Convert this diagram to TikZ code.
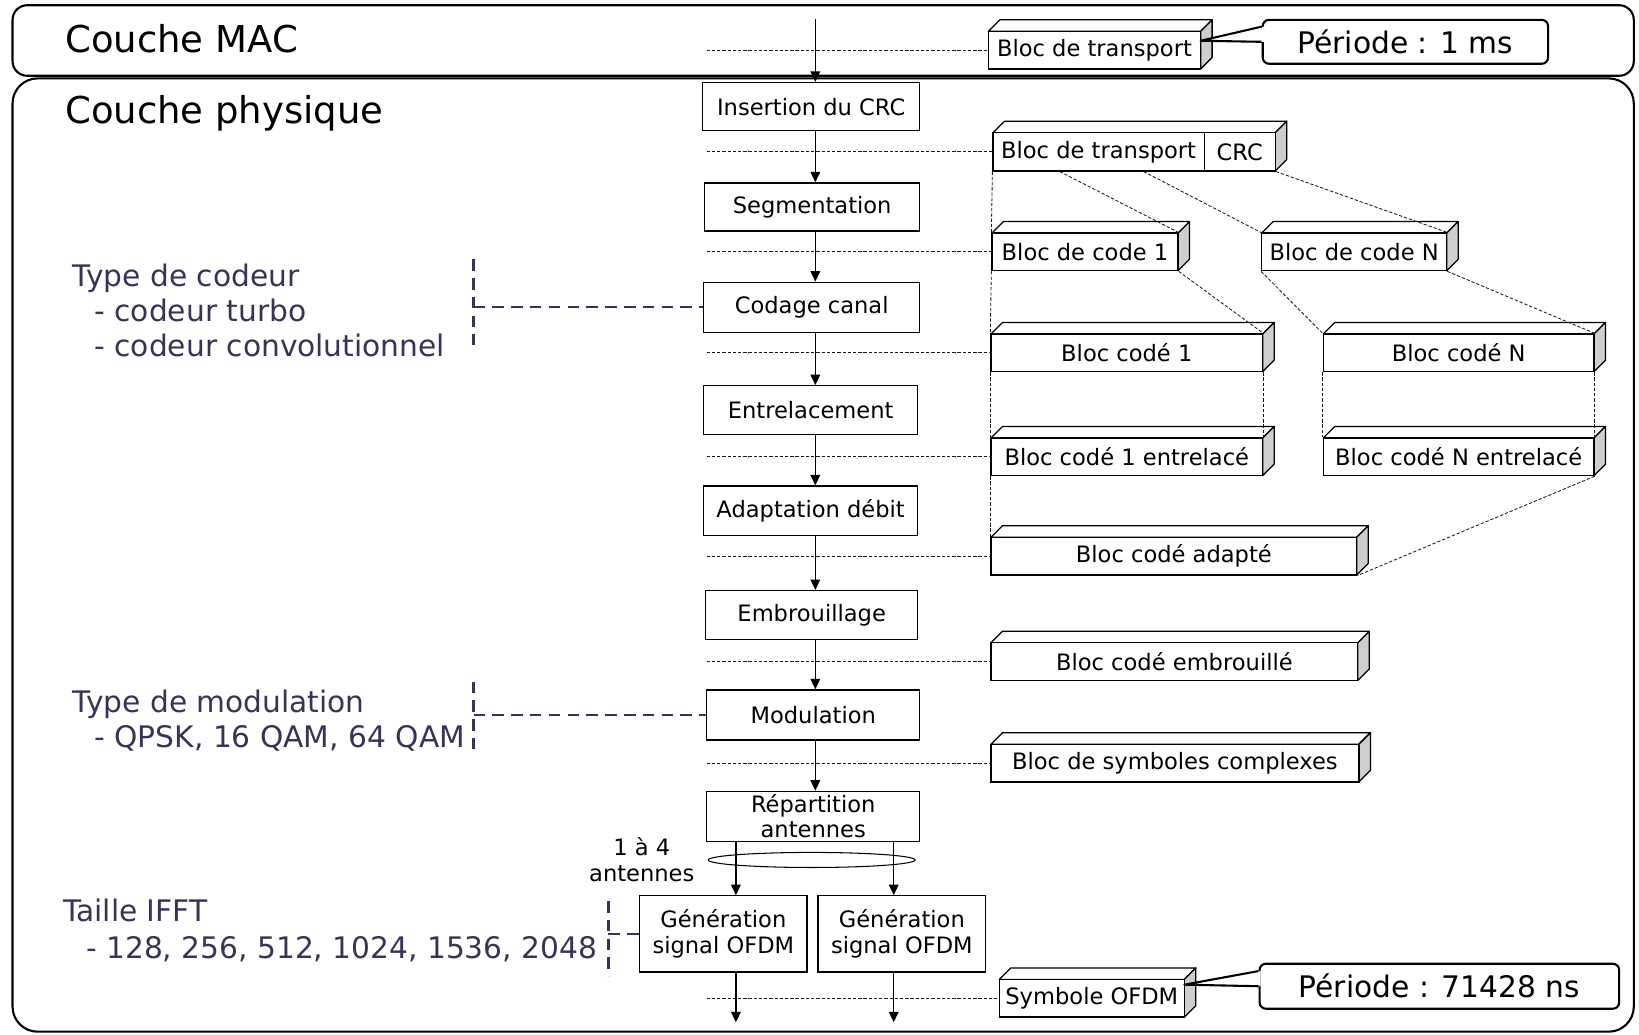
\documentclass[tikz,border=0pt]{standalone}
\usepackage{fontspec}
\setmainfont{DejaVu Sans}
\usetikzlibrary{arrows.meta,calc}
\definecolor{noteviolet}{RGB}{60,49,86}
\definecolor{sidegray}{RGB}{206,206,206}

\newcommand\boxfont{\fontsize{10.8pt}{12.75pt}\selectfont}
\newcommand\notefont{\fontsize{14.2pt}{17pt}\selectfont}
\newcommand\titlefont{\fontsize{17.7pt}{20pt}\selectfont}

% rectangular node given by its corners: name, x1, y1, x2, y2, text
\newcommand\procnode[6]{%
  \pgfmathsetmacro\pcx{(#2+#4)/2}\pgfmathsetmacro\pcy{(#3+#5)/2}%
  \pgfmathsetmacro\pcw{(#4-#2)*0.5}\pgfmathsetmacro\pch{(#5-#3)*0.5}%
  \node[proc, minimum width=\pcw pt, minimum height=\pch pt] (#1) at (\pcx,\pcy) {#6};}

% block drawn in relief: top face, grey side face, then the front node
\newcommand\bloctop[4]{%
  \filldraw[blocedge, fill=white] (#1,#2) -- (#1+11,#2-11) -- (#3+11,#2-11) -- (#3,#2) -- cycle;
  \filldraw[blocedge, fill=sidegray] (#3,#2) -- (#3+11,#2-11) -- (#3+11,#4-11) -- (#3,#4) -- cycle;}
\newcommand\bloc[6]{\bloctop{#2}{#3}{#4}{#5}\procnode{#1}{#2}{#3}{#4}{#5}{#6}}

\begin{document}
\begin{tikzpicture}[x=0.5pt,y=-0.5pt,
  proc/.style={draw=black, line width=0.6pt, fill=white, inner sep=0pt, align=center, font=\boxfont},
  blocedge/.style={draw=black, line width=0.6pt, line join=round},
  flow/.style={-{Triangle[width=4.6pt,length=5pt]}, line width=0.6pt},
  guide/.style={draw=black!90, line width=0.4pt, dash pattern=on 1.6pt off 0.9pt},
  note/.style={text=noteviolet, font=\notefont, anchor=base west, inner sep=0pt},
  notelink/.style={draw=noteviolet, line width=1.1pt, dash pattern=on 5.5pt off 3.5pt},
  layer/.style={draw=black, line width=1pt},
  callout/.style={draw=black, line width=1pt, fill=white, rounded corners=3pt, inner sep=0pt, font=\notefont},
  tail/.style={draw=black, line width=1pt, line join=round},
  title/.style={anchor=base west, inner sep=0pt, font=\titlefont}
]
\useasboundingbox (0,0) rectangle (1568,990);

% the two layers
\draw[layer, rounded corners=7pt] (12,5) rectangle (1563,72.5);
\draw[layer, rounded corners=12pt] (12,75) rectangle (1563,987);
\node[title] (macT) at (62,50) {Couche MAC};
\node[title] (phyT) at (62,118) {Couche physique};

% reference points of the processing column
\coordinate (col) at (676,0);
\coordinate (topin) at (780,18);
\coordinate (a1) at (704,0);
\coordinate (a2) at (855,0);
\coordinate (bot) at (0,978);

% processing steps
\procnode{crc}{672}{79}{880}{125}{Insertion du CRC}
\procnode{seg}{674}{175}{880}{221}{Segmentation}
\procnode{cod}{673}{270}{880}{318}{Codage canal}
\procnode{ent}{673}{369}{878}{416}{Entrelacement}
\procnode{ada}{673}{465}{878}{512}{Adaptation débit}
\procnode{emb}{675}{565}{878}{612}{Embrouillage}
\procnode{mod}{676}{660}{880}{708}{Modulation}
\procnode{rep}{676}{757}{880}{805}{Répartition\\[-1pt]antennes}
\procnode{genA}{612}{857}{772}{930}{Génération\\signal OFDM}
\procnode{genB}{782.5}{857}{943}{930}{Génération\\signal OFDM}

% data blocks
\bloc{blA}{945.5}{30}{1148.6}{66}{Bloc de transport}
\bloctop{950}{127}{1220}{163.5}
\procnode{blBt}{950}{127}{1152}{163.5}{Bloc de transport}
\procnode{blBc}{1152}{127}{1220}{163.5}{CRC}
\bloc{blC}{949}{223}{1127}{259}{Bloc de code 1}
\bloc{blD}{1207}{223}{1384}{259}{Bloc de code N}
\bloc{blE}{948}{319.5}{1208}{355.5}{Bloc codé 1}
\bloc{blF}{1266}{319.5}{1525}{355.5}{Bloc codé N}
\bloc{blG}{948}{419}{1208}{455}{Bloc codé 1 entrelacé}
\bloc{blH}{1266}{419}{1525}{455}{Bloc codé N entrelacé}
\bloc{blI}{948}{514}{1298}{550}{Bloc codé adapté}
\bloc{blJ}{948}{615}{1299}{651}{Bloc codé embrouillé}
\bloc{blK}{948}{712}{1300}{748}{Bloc de symboles complexes}
\bloc{blL}{956}{937}{1133}{973}{Symbole OFDM}

% guides from the column to each block
\foreach \b in {blA,blBt,blC,blE,blG,blI,blJ,blK,blL}
  \draw[guide] (\b.west -| col) -- (\b.west);

% guides between blocks
\draw[guide] (blBt.south west) -- (blC.north west);
\draw[guide] (blC.south west) -- (blE.north west);
\draw[guide] ($(blBt.south west)!0.317!(blBt.south east)$) -- (blC.north east);
\draw[guide] ($(blBt.south west)!0.712!(blBt.south east)$) -- (blD.north west);
\draw[guide] (blBc.south east) -- (blD.north east);
\draw[guide] (blC.south east) -- (blE.north east);
\draw[guide] (blD.south west) -- (blF.north west);
\draw[guide] (blD.south east) -- (blF.north east);
\draw[guide] (blE.south west) -- (blG.north west);
\draw[guide] (blE.south east) -- (blG.north east);
\draw[guide] (blF.south west) -- (blH.north west);
\draw[guide] (blF.south east) -- (blH.north east);
\draw[guide] (blG.south west) -- (blI.north west);
\draw[guide] (blH.south east) -- (blI.south east);

% flow arrows
\draw[flow] (topin) -- (crc.north -| topin);
\draw[flow] (crc.south -| topin) -- (seg.north -| topin);
\draw[flow] (seg.south -| topin) -- (cod.north -| topin);
\draw[flow] (cod.south -| topin) -- (ent.north -| topin);
\draw[flow] (ent.south -| topin) -- (ada.north -| topin);
\draw[flow] (ada.south -| topin) -- (emb.north -| topin);
\draw[flow] (emb.south -| topin) -- (mod.north -| topin);
\draw[flow] (mod.south -| topin) -- (rep.north -| topin);
\draw[flow] (rep.south -| a1) -- (genA.north -| a1);
\draw[flow] (rep.south -| a2) -- (genB.north -| a2);
\draw[flow] (genA.south -| a1) -- (a1 |- bot);
\draw[flow] (genB.south -| a2) -- (a2 |- bot);

% antenna grouping
\draw[line width=0.5pt] (776.5,822.7) ellipse [x radius=49.5pt, y radius=3.6pt];
\node[anchor=base, inner sep=0pt, font=\boxfont] (ant1) at (614,818) {1 à 4};
\node[anchor=base, inner sep=0pt, font=\boxfont] (ant2) at (614,843.5) {antennes};

% parameter notes
\node[note] (n1) at (69,274) {Type de codeur};
\node[note] (n2) at (90,308) {- codeur turbo};
\node[note] (n3) at (90,341) {- codeur convolutionnel};
\node[note] (n4) at (69,682) {Type de modulation};
\node[note] (n5) at (90,715) {- QPSK, 16 QAM, 64 QAM};
\node[note] (n6) at (60,882) {Taille IFFT};
\node[note] (n7) at (82,917) {- 128, 256, 512, 1024, 1536, 2048};

\coordinate (k1t) at (453,248); \coordinate (k1b) at (453,330);
\coordinate (k2t) at (453,652); \coordinate (k2b) at (453,722);
\coordinate (k3t) at (582,862); \coordinate (k3b) at (582,934);
\draw[notelink] (k1t) -- (k1b);
\draw[notelink] (cod.west -| k1t) -- (cod.west);
\draw[notelink] (k2t) -- (k2b);
\draw[notelink] (mod.west -| k2t) -- (mod.west);
\draw[notelink] (k3t) -- (k3b);
\draw[notelink] (genA.west -| k3t) -- (genA.west);

% period callouts
\node[callout, minimum width=136.5pt, minimum height=21pt] (perA) at (1344.5,40) {Période : 1 ms};
\coordinate (tipA) at (1148.6,39);
\fill[white] (tipA) -- ([yshift=7.25pt,xshift=1pt]perA.west) -- ([xshift=1pt]perA.west) -- cycle;
\draw[tail] ([yshift=7.25pt]perA.west) -- (tipA) -- (perA.west);

\node[callout, minimum width=172pt, minimum height=21.5pt] (perB) at (1377,943.5) {Période : 71428 ns};
\coordinate (tipB) at (1133,942);
\fill[white] (tipB) -- ([yshift=7.25pt,xshift=1pt]perB.west) -- ([xshift=1pt]perB.west) -- cycle;
\draw[tail] ([yshift=7.25pt]perB.west) -- (tipB) -- (perB.west);
\end{tikzpicture}
\end{document}
